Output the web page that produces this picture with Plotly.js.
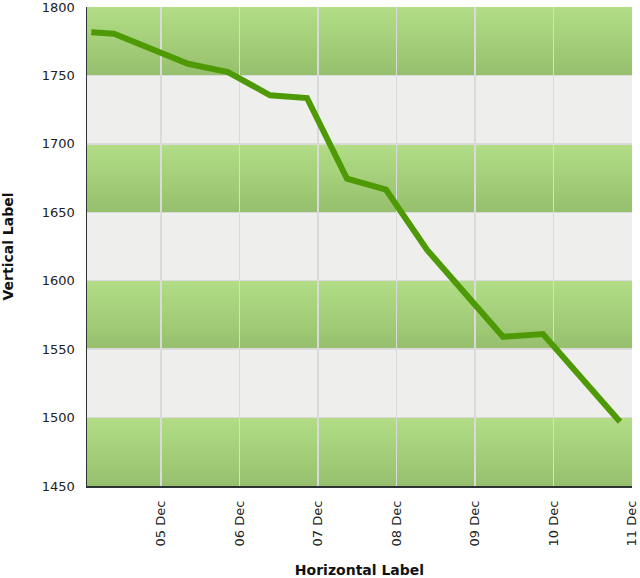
<!DOCTYPE html>
<html>
<head>
<meta charset="utf-8">
<script src="https://cdn.plot.ly/plotly-3.0.1.min.js"></script>
<style>html,body{margin:0;padding:0;background:#fff;}#chart{width:640px;height:578px;}</style>
</head>
<body>
<div id="chart"></div>
<script>
// Data
var times = [
  '2023-12-04 02:40', '2023-12-04 09:37', '2023-12-05 08:15', '2023-12-05 20:28',
  '2023-12-06 09:20', '2023-12-06 20:38', '2023-12-07 08:52', '2023-12-07 20:47',
  '2023-12-08 09:21', '2023-12-09 08:34', '2023-12-09 20:47', '2023-12-10 20:20'
];
var values = [1781.5, 1780.5, 1758.5, 1752.5, 1735.5, 1733.5, 1674.5, 1666.5, 1622.5, 1559, 1561, 1497];
var tickDates = ['2023-12-05', '2023-12-06', '2023-12-07', '2023-12-08', '2023-12-09', '2023-12-10', '2023-12-11'];
var tickLabels = ['05 Dec', '06 Dec', '07 Dec', '08 Dec', '09 Dec', '10 Dec', '11 Dec'];
var yTicks = [1450, 1500, 1550, 1600, 1650, 1700, 1750, 1800];
var yMin = 1450, yMax = 1800, yStep = 50;

// Background bands (green gradient / grey alternating)
var shapes = [];
function hex2(c){return ('0'+Math.round(c).toString(16)).slice(-2);}
var gTop = [178, 221, 134], gBot = [151, 192, 110];
var nStrips = 30;
for (var b = yMin, k = 0; b < yMax; b += yStep, k++) {
  if (k % 2 === 0) {
    for (var s = 0; s < nStrips; s++) {
      var t = (s + 0.5) / nStrips; // 0 bottom -> 1 top
      var col = '#' + hex2(gBot[0] + (gTop[0]-gBot[0])*t) + hex2(gBot[1] + (gTop[1]-gBot[1])*t) + hex2(gBot[2] + (gTop[2]-gBot[2])*t);
      shapes.push({type:'rect', xref:'paper', yref:'y', x0:0, x1:1,
        y0: b + yStep*s/nStrips, y1: b + yStep,
        fillcolor: col, line:{width:0}, layer:'below'});
    }
  } else {
    shapes.push({type:'rect', xref:'paper', yref:'y', x0:0, x1:1, y0:b, y1:b+yStep,
      fillcolor:'#eeeeec', line:{width:0}, layer:'below'});
  }
}

var trace = {
  x: times, y: values, type: 'scatter', mode: 'lines',
  line: {color: '#4e9a06', width: 6},
  hoverinfo: 'skip', cliponaxis: false
};

var layout = {
  width: 640, height: 578,
  margin: {l: 87, r: 8, t: 7, b: 92},
  paper_bgcolor: '#ffffff', plot_bgcolor: 'rgba(0,0,0,0)',
  font: {family: 'DejaVu Sans', size: 13, color: '#222222'},
  showlegend: false,
  shapes: shapes,
  xaxis: {
    type: 'date',
    range: ['2023-12-04 01:22', '2023-12-11 00:00'],
    tickmode: 'array', tickvals: tickDates, ticktext: tickLabels,
    tickangle: -90, ticklabeloverflow: 'allow',
    ticks: 'outside', ticklen: 8, tickcolor: 'rgba(0,0,0,0)',
    showgrid: true, gridcolor: '#dadada', gridwidth: 1.5,
    showline: true, linecolor: '#2e3436', linewidth: 1.5,
    zeroline: false,
    tickfont: {family: 'DejaVu Sans', size: 13, color: '#222222'},
    title: {text: '<b>Horizontal Label</b>', font: {family: 'DejaVu Sans', size: 14, color: '#111111'}, standoff: 28}
  },
  yaxis: {
    range: [yMin, yMax],
    tickmode: 'array', tickvals: yTicks, ticktext: yTicks.map(String),
    ticklabeloverflow: 'allow',
    ticks: 'outside', ticklen: 8, tickcolor: 'rgba(0,0,0,0)',
    showgrid: true, gridcolor: '#dadada', gridwidth: 1.5,
    showline: true, linecolor: '#2e3436', linewidth: 1.5,
    zeroline: false,
    tickfont: {family: 'DejaVu Sans', size: 13, color: '#222222'},
    title: {text: '<b>Vertical Label</b>', font: {family: 'DejaVu Sans', size: 14, color: '#111111'}, standoff: 29}
  }
};

Plotly.newPlot('chart', [trace], layout, {displayModeBar: false, staticPlot: true});
</script>
</body>
</html>
